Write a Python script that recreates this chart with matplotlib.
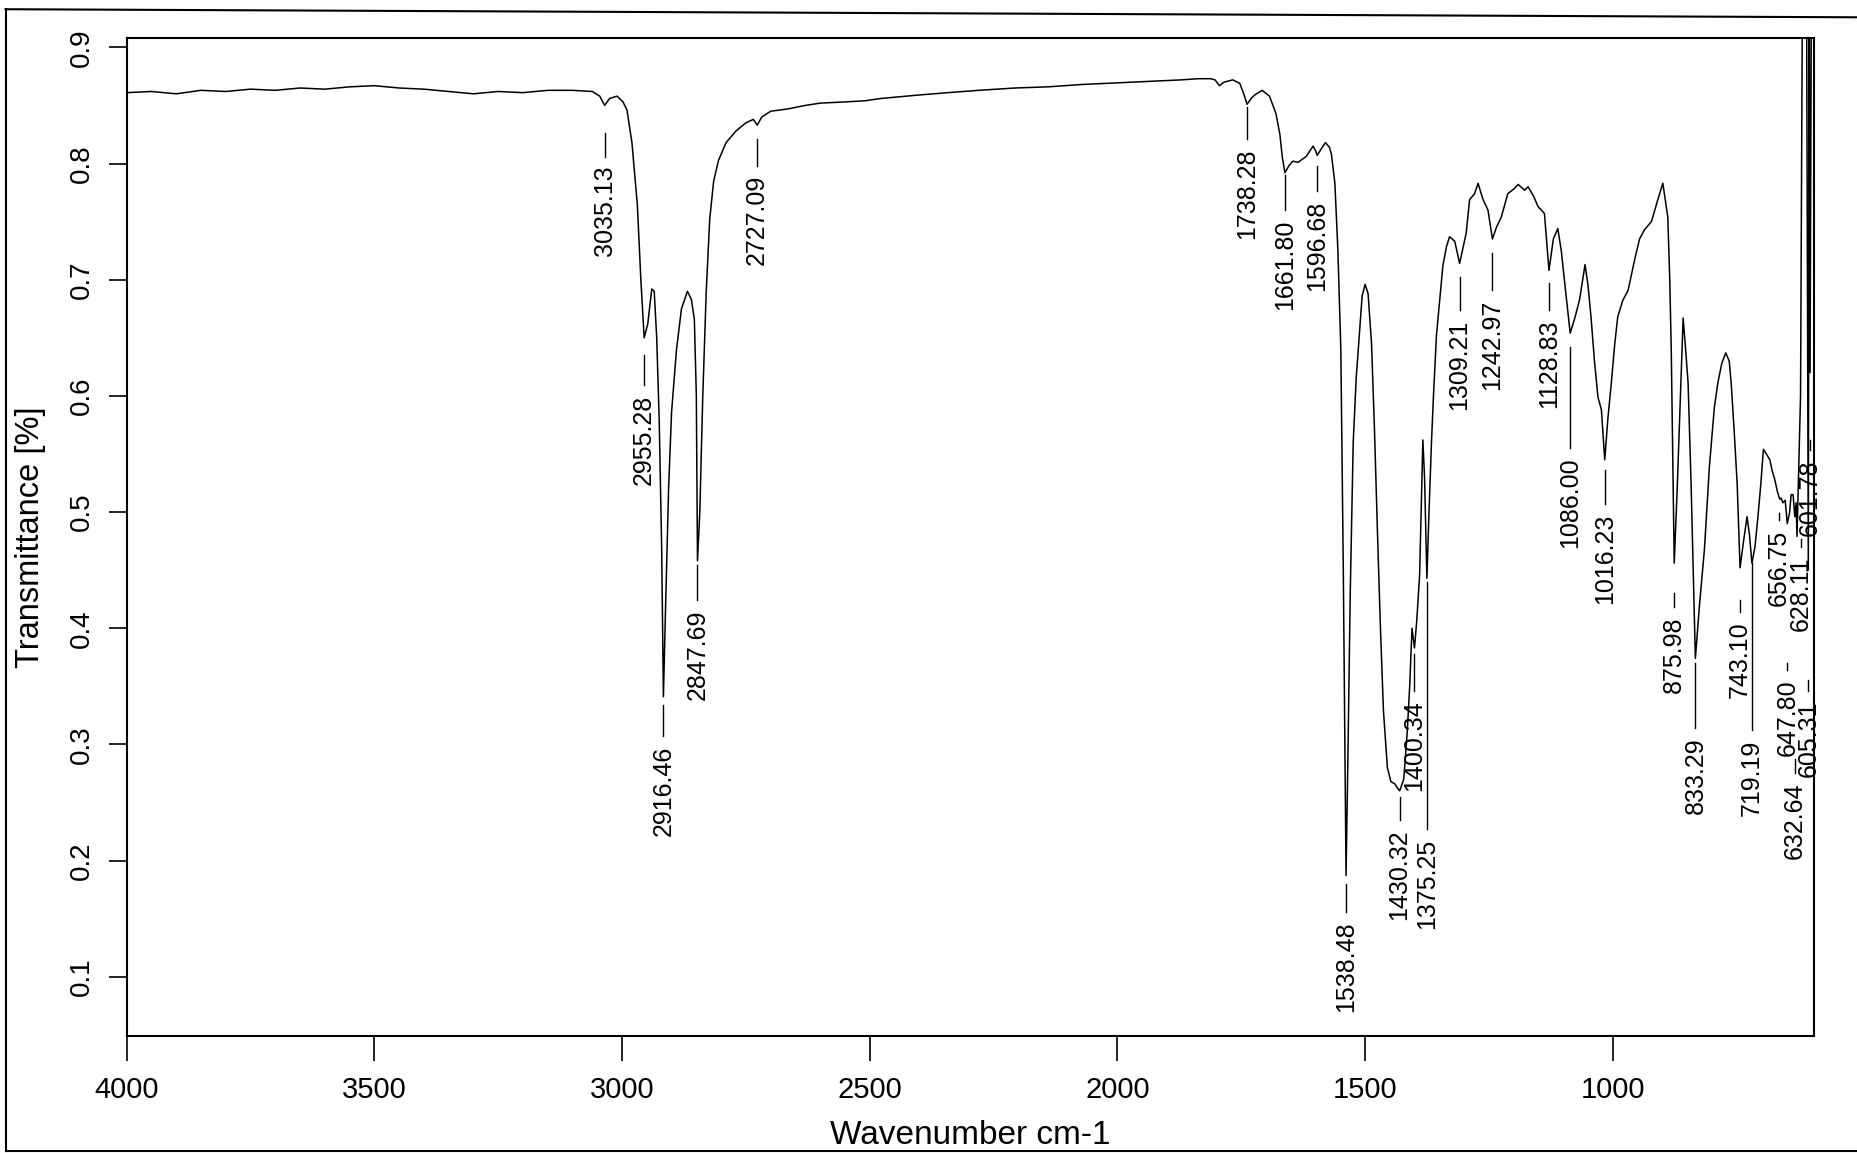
import matplotlib
matplotlib.use("Agg")
import matplotlib.pyplot as plt
from matplotlib.lines import Line2D

plt.rcParams['font.family'] = ['Liberation Sans', 'DejaVu Sans']

# spectrum: wavenumber (cm-1) and transmittance
wavenumber = [
    4000, 3950, 3900, 3850, 3800, 3750, 3700, 3650, 3600, 3550, 3500, 3450, 3400, 3350,
    3300, 3250, 3200, 3150, 3100, 3060, 3045, 3035.13, 3025, 3010, 2998, 2990, 2980, 2969,
    2962, 2955.28, 2948, 2940, 2935, 2930, 2925, 2920, 2916.46, 2912, 2906, 2900, 2890,
    2880, 2868, 2860, 2854, 2850, 2847.69, 2843, 2837, 2830, 2823, 2815, 2805, 2790, 2770,
    2750, 2735, 2727.09, 2718, 2700, 2665, 2630, 2600, 2550, 2510, 2477, 2400, 2342, 2280,
    2207, 2140, 2073, 2020, 1972, 1920, 1871, 1837, 1811, 1803, 1794, 1785, 1767, 1753,
    1745, 1738.28, 1730, 1723, 1708, 1693, 1680, 1672, 1667, 1661.80, 1654, 1646, 1635,
    1629, 1619, 1605, 1600, 1596.68, 1588, 1580, 1572, 1568, 1561, 1555, 1549, 1544, 1540,
    1538.48, 1535, 1530, 1524, 1518, 1506, 1500, 1494, 1487, 1481, 1475, 1469, 1463, 1455,
    1448, 1440, 1434, 1430.32, 1426, 1422, 1415, 1410, 1405.3, 1400.34, 1396, 1390, 1383.4,
    1380, 1375.25, 1371, 1366, 1362, 1356, 1350, 1343, 1336, 1329.5, 1319, 1309.21, 1302,
    1296, 1289, 1279, 1272, 1262, 1252, 1242.97, 1235, 1225, 1212, 1200, 1191, 1178, 1171,
    1160, 1151, 1138, 1128.83, 1120, 1111, 1104, 1097, 1086.00, 1076, 1067, 1056, 1050,
    1044, 1037, 1030, 1023, 1016.23, 1010, 1003, 996, 990, 980, 969, 956, 946, 936, 922,
    909, 899, 889, 885, 882, 875.98, 870, 865, 858, 853, 848, 842, 833.29, 825, 815, 805,
    795, 788, 780, 772, 765, 761, 755, 749, 743.10, 736, 729, 724, 719.19, 713, 707, 701,
    696, 690, 683, 678, 673, 668, 663, 660, 656.75, 652, 647.80, 643, 640, 636, 632.64,
    630, 628.11, 621, 617, 609, 605.31, 603.5, 601.78, 599,
]
transmittance = [
    0.861, 0.862, 0.860, 0.863, 0.862, 0.864, 0.863, 0.865, 0.864, 0.866, 0.867, 0.865, 0.864, 0.862,
    0.860, 0.862, 0.861, 0.863, 0.863, 0.862, 0.858, 0.850, 0.856, 0.858, 0.853, 0.846, 0.818, 0.764,
    0.700, 0.650, 0.662, 0.692, 0.690, 0.650, 0.580, 0.470, 0.341, 0.420, 0.520, 0.586, 0.640,
    0.675, 0.690, 0.683, 0.666, 0.600, 0.458, 0.500, 0.600, 0.690, 0.752, 0.785, 0.803, 0.818, 0.828,
    0.835, 0.838, 0.833, 0.840, 0.845, 0.847, 0.850, 0.852, 0.853, 0.854, 0.856, 0.859, 0.861, 0.863,
    0.865, 0.866, 0.868, 0.869, 0.870, 0.871, 0.872, 0.873, 0.873, 0.872, 0.867, 0.870, 0.872, 0.869,
    0.860, 0.851, 0.856, 0.859, 0.863, 0.858, 0.843, 0.825, 0.805, 0.792, 0.798, 0.802, 0.801,
    0.803, 0.806, 0.815, 0.811, 0.807, 0.813, 0.818, 0.814, 0.808, 0.783, 0.726, 0.640, 0.450, 0.260,
    0.187, 0.280, 0.430, 0.560, 0.615, 0.686, 0.696, 0.688, 0.645, 0.570, 0.482, 0.400, 0.329, 0.280,
    0.268, 0.266, 0.262, 0.260, 0.265, 0.270, 0.310, 0.350, 0.400, 0.383, 0.405, 0.445, 0.562,
    0.530, 0.443, 0.500, 0.560, 0.600, 0.652, 0.680, 0.712, 0.728, 0.737, 0.733, 0.714, 0.728,
    0.740, 0.769, 0.774, 0.783, 0.769, 0.760, 0.735, 0.745, 0.754, 0.774, 0.778, 0.782, 0.777, 0.780,
    0.772, 0.763, 0.757, 0.708, 0.735, 0.744, 0.725, 0.697, 0.654, 0.668, 0.683, 0.713, 0.695,
    0.668, 0.630, 0.599, 0.588, 0.545, 0.580, 0.611, 0.645, 0.668, 0.682, 0.691, 0.717, 0.735, 0.743, 0.750,
    0.769, 0.783, 0.754, 0.700, 0.640, 0.456, 0.520, 0.582, 0.667, 0.640, 0.611, 0.525, 0.374, 0.420, 0.468, 0.539,
    0.590, 0.611, 0.628, 0.637, 0.630, 0.611, 0.570, 0.525, 0.452, 0.475, 0.496, 0.480, 0.456, 0.470, 0.496, 0.525,
    0.554, 0.550, 0.545, 0.535, 0.528, 0.518, 0.511, 0.512, 0.508, 0.510, 0.490, 0.500, 0.515, 0.515, 0.496,
    0.508, 0.479, 0.600, 0.970, 0.970, 0.450, 0.970, 0.620, 0.970,
]

# peak picks printed under the trace
peak_labels = [
    "3035.13", "2955.28", "2916.46", "2847.69", "2727.09", "1738.28", "1661.80",
    "1596.68", "1538.48", "1430.32", "1400.34", "1375.25", "1309.21", "1242.97",
    "1128.83", "1086.00", "1016.23", "875.98", "833.29", "743.10", "719.19",
    "656.75", "647.80", "632.64", "628.11", "605.31", "601.78",
]
# where each leader starts and where its text begins (transmittance units)
label_line_top = [
    0.826, 0.635, 0.334, 0.454, 0.821, 0.849, 0.790,
    0.798, 0.180, 0.255, 0.378, 0.440, 0.702, 0.723,
    0.697, 0.642, 0.536, 0.430, 0.370, 0.424, 0.456,
    0.499, 0.370, 0.287, 0.477, 0.355, 0.562,
]
label_text_top = [
    0.798, 0.601, 0.299, 0.416, 0.790, 0.813, 0.752,
    0.768, 0.148, 0.227, 0.338, 0.219, 0.666, 0.683,
    0.666, 0.547, 0.499, 0.410, 0.306, 0.406, 0.304,
    0.485, 0.356, 0.267, 0.462, 0.338, 0.545,
]
# small sideways nudges (cm-1) for the crowded picks at the right edge
label_shift = [0] * 21 + [8, 0, 0, -8, 0, 0]

x_ticks = [4000, 3500, 3000, 2500, 2000, 1500, 1000]
y_ticks = [0.1, 0.2, 0.3, 0.4, 0.5, 0.6, 0.7, 0.8, 0.9]

fig = plt.figure(figsize=(18.57, 11.53), dpi=100)
ax = fig.add_axes([0.0682, 0.1015, 0.9086, 0.8655])

ax.plot(wavenumber, transmittance, color='black', lw=1.1)

for lab, top, txt, dx in zip(peak_labels, label_line_top, label_text_top, label_shift):
    wn = float(lab) + dx
    ax.plot([wn, wn], [top, txt + 0.008], color='black', lw=1.0, clip_on=False)
    ax.text(wn, txt, lab, rotation=90, ha='center', va='top', fontsize=18, clip_on=False)

ax.set_xlim(4000, 594)
ax.set_ylim(0.049, 0.908)
ax.set_xticks(x_ticks)
ax.set_yticks(y_ticks)
ax.set_yticklabels([f"{v:.1f}" for v in y_ticks], rotation=90, va='center')
ax.tick_params(axis='x', direction='out', length=18, width=1.2, labelsize=21, pad=11)
ax.tick_params(axis='y', direction='out', length=13, width=1.2, labelsize=20, pad=10)
for s in ax.spines.values():
    s.set_linewidth(1.5)

ax.set_xlabel("Wavenumber cm-1", fontsize=24, labelpad=11)
ax.set_ylabel("Transmittance [%]", fontsize=23.5, labelpad=16)

# border of the scanned page
fig.add_artist(Line2D([0.003, 0.003], [0.002, 0.992], color='black', lw=1.5))
fig.add_artist(Line2D([0.003, 1.0], [0.992, 0.985], color='black', lw=1.5))
fig.add_artist(Line2D([0.003, 1.0], [0.002, 0.002], color='black', lw=1.5))

fig.savefig("out.png", dpi=100)
